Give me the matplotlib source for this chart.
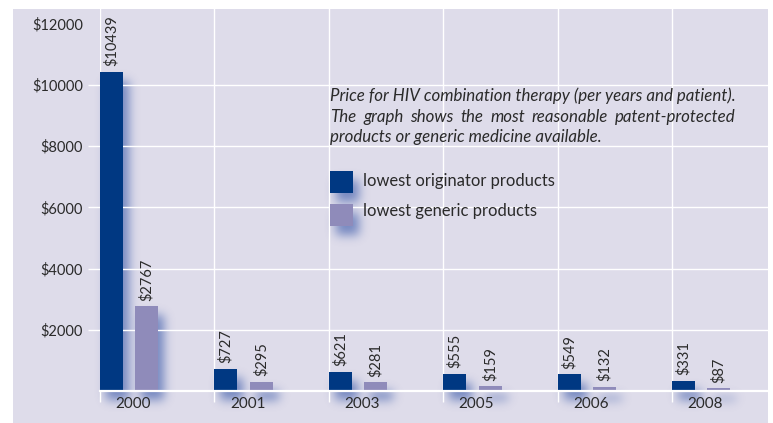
import numpy as np
import matplotlib
matplotlib.use("Agg")
import matplotlib.pyplot as plt
from matplotlib.patches import Rectangle

# ---- data ----
years = ["2000", "2001", "2003", "2005", "2006", "2008"]
originator = [10439, 727, 621, 555, 549, 331]
generic = [2767, 295, 281, 159, 132, 87]
ytick_values = [2000, 4000, 6000, 8000, 10000, 12000]
ytick_labels = ["$2000", "$4000", "$6000", "$8000", "$10000", "$12000"]
series_names = ["lowest originator products", "lowest generic products"]
note_lines = [
    "Price for HIV combination therapy (per years and patient).",
    "The graph shows the most reasonable patent-protected",
    "products or generic medicine available.",
]

# ---- style ----
BG = "#dedcea"
DARK = "#003882"
LIGHT = "#8f8bba"
TXT = "#2a2a2a"
SHADOW_RGB = (60 / 255, 90 / 255, 170 / 255)
plt.rcParams["font.family"] = ["Lato", "DejaVu Sans"]

W, H = 773, 423
fig = plt.figure(figsize=(W / 100, H / 100), dpi=100)
fig.patch.set_facecolor("white")

bg = fig.add_axes([0, 0, 1, 1])
bg.set_xlim(0, W)
bg.set_ylim(H, 0)
bg.axis("off")
bg.add_patch(Rectangle((13, 9), 755, 414, facecolor=BG, edgecolor="none", zorder=0))

ax = fig.add_axes([100 / W, (H - 391) / H, 668 / W, 382 / H])
ax.set_facecolor("none")
unit = 114.4
ax.set_xlim(0, 668 / unit)
ax.set_ylim(0, 12484)
for s in ax.spines.values():
    s.set_visible(False)

x = np.arange(len(years))
bw = 0.201
off2 = 0.31
ax.bar(x, originator, width=bw, align="edge", color=DARK, zorder=3)
ax.bar(x + off2, generic, width=bw, align="edge", color=LIGHT, zorder=3)

for xi, v in zip(x, originator):
    ax.annotate(f"${v}", (xi + bw / 2, v), xytext=(0, 4), textcoords="offset points",
                rotation=90, ha="center", va="bottom", fontsize=10.5, color=TXT)
for xi, v in zip(x + off2, generic):
    ax.annotate(f"${v}", (xi + bw / 2, v), xytext=(0, 4), textcoords="offset points",
                rotation=90, ha="center", va="bottom", fontsize=10.5, color=TXT)

# y axis
ax.set_yticks(ytick_values)
ax.set_yticklabels(ytick_labels, fontsize=10.5, color=TXT)
ax.tick_params(axis="y", length=8.6, width=1, color="white", pad=3.5)
ax.yaxis.grid(True, color="white", linewidth=1)
ax.get_ygridlines()[-1].set_visible(False)
ax.yaxis.get_major_ticks()[-1].tick1line.set_visible(False)

# x axis
ax.set_xticks(x)
ax.set_xticklabels([])
ax.set_xticks(x + 0.29, minor=True)
ax.set_xticklabels(years, minor=True, fontsize=11, color=TXT)
ax.tick_params(axis="x", which="major", length=8, width=1, color="white")
ax.tick_params(axis="x", which="minor", length=0, pad=4)
ax.xaxis.grid(True, which="major", color="white", linewidth=1)
ax.axhline(0, color="white", linewidth=1.6, clip_on=False, zorder=4)
ax.set_axisbelow(True)

# ---- note text and legend ----
def fx(px):
    return px / W

def fy(py):
    return 1 - py / H

renderer = fig.canvas.get_renderer()

def text_width(s, size, **kw):
    t = fig.text(0, 0, s, fontsize=size, **kw)
    w = t.get_window_extent(renderer).width
    t.remove()
    return w

NOTE_W = 405.0
note_size = 10.0 * NOTE_W / text_width(note_lines[0], 10.0, style="italic")
fig.text(fx(330), fy(101), note_lines[0], fontsize=note_size, style="italic",
         color=TXT, va="baseline", ha="left")
target_w = text_width(note_lines[0], note_size, style="italic")
words = note_lines[1].split()
widths = [text_width(w, note_size, style="italic") for w in words]
gap = (target_w - sum(widths)) / (len(words) - 1)
cx = 330
for w, wd in zip(words, widths):
    fig.text(fx(cx), fy(122), w, fontsize=note_size, style="italic", color=TXT,
             va="baseline", ha="left")
    cx += wd + gap
fig.text(fx(330), fy(142), note_lines[2], fontsize=note_size, style="italic",
         color=TXT, va="baseline", ha="left")

leg_size = 10.0 * 192.0 / text_width(series_names[0], 10.0)
legend_boxes = [(330, 171, DARK), (330, 204, LIGHT)]
for (lx, ly, c), name, base in zip(legend_boxes, series_names, [186, 216]):
    fig.add_artist(Rectangle((fx(lx), fy(ly + 22)), 23 / W, 22 / H,
                             transform=fig.transFigure, facecolor=c,
                             edgecolor="none", zorder=5))
    fig.text(fx(363), fy(base), name, fontsize=leg_size, color=TXT,
             va="baseline", ha="left")

# ---- soft shadows (derived from bar geometry) ----
mask = np.zeros((H, W))
dx, dy = 6, 9
rects = []
for xi, v in zip(x, originator):
    rects.append((xi, v))
for xi, v in zip(x + off2, generic):
    rects.append((xi, v))
for x0, v in rects:
    (px0, py0), (px1, py1) = ax.transData.transform([(x0, 0), (x0 + bw, v)])
    r0 = int(round(H - py1)) + dy
    r1 = int(round(H - py0)) + dy
    c0 = int(round(px0)) + dx
    c1 = int(round(px1)) + dx
    mask[max(r0, 0):min(r1, H), max(c0, 0):min(c1, W)] = 1
for lx, ly, _ in legend_boxes:
    mask[ly + dy:ly + 22 + dy, lx + dx:lx + 23 + dx] = 1

sigma = 5.0
k = np.arange(-15, 16)
kern = np.exp(-k ** 2 / (2 * sigma ** 2))
kern /= kern.sum()
blur = np.apply_along_axis(lambda r: np.convolve(r, kern, mode="same"), 1, mask)
blur = np.apply_along_axis(lambda c: np.convolve(c, kern, mode="same"), 0, blur)
img = np.zeros((H, W, 4))
img[..., 0], img[..., 1], img[..., 2] = SHADOW_RGB
img[..., 3] = np.clip(blur * 0.65, 0, 1)
img[:9, :, 3] = 0
img[:, :13, 3] = 0
img[:, 768:, 3] = 0
bg.imshow(img, extent=(0, W, H, 0), zorder=1, interpolation="nearest", aspect="auto")
bg.set_xlim(0, W)
bg.set_ylim(H, 0)

fig.savefig("out.png", dpi=100, facecolor="white")
